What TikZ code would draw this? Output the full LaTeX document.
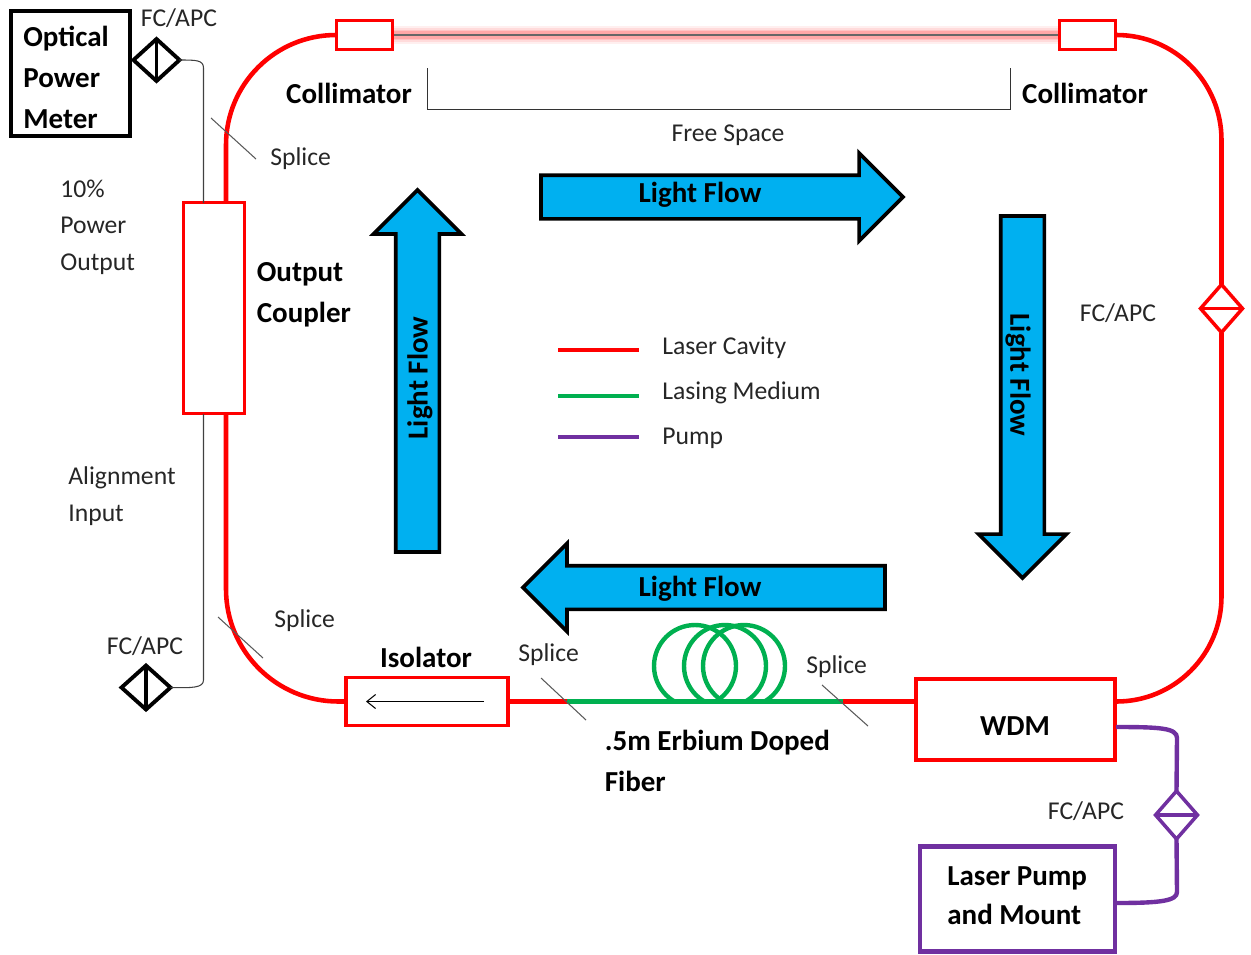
\documentclass[tikz,border=0pt]{standalone}
\usepackage{fontspec}
\setmainfont{Carlito}
\usepackage{xcolor}
\usepackage{tikz}
\usetikzlibrary{positioning,shapes.geometric,shapes.arrows,arrows.meta}
\definecolor{cavityred}{HTML}{FF0000}
\definecolor{mediumgreen}{HTML}{00B050}
\definecolor{pumppurple}{HTML}{7030A0}
\definecolor{flowblue}{HTML}{00B0F0}
\definecolor{labelgray}{HTML}{262626}

\begin{document}
\begin{tikzpicture}[
    x=0.02cm, y=-0.02cm,
    redbox/.style={rectangle, draw=cavityred, line width=2.1pt, fill=white, inner sep=0pt, outer sep=0pt},
    cavity/.style={cavityred, line width=2.6pt},
    medium/.style={mediumgreen, line width=2.5pt},
    pump/.style={pumppurple, line width=2.5pt},
    thinfiber/.style={black!75, line width=0.6pt},
    splicetick/.style={black!65, line width=0.6pt},
    conn/.style={diamond, inner sep=0pt, outer sep=0pt, minimum width=0.84cm, minimum height=0.96cm, line width=2pt, fill=white},
    flow/.style={single arrow, draw=black, fill=flowblue, line width=2.1pt, inner xsep=0pt, inner ysep=0.4cm, outer sep=0pt,
        minimum height=7.24cm, minimum width=1.68cm, single arrow head extend=0.44cm, anchor=tail},
    flowtext/.style={font=\fontsize{16.5}{20}\selectfont\bfseries, text=black, inner sep=0pt},
    boldtext/.style={font=\fontsize{16.5}{23.3}\selectfont\bfseries, align=left, text=black, inner sep=0pt},
    plaintext/.style={font=\fontsize{14.6}{20.8}\selectfont, align=left, text=labelgray, inner sep=0pt}
]
\useasboundingbox (0,0) rectangle (1251,954);

\foreach \wd/\op in {10pt/0.1, 8pt/0.15, 6pt/0.2, 4pt/0.3}
    \draw[cavityred!60, line width=\wd, opacity=\op] (393,35) -- (1059,35);
\draw[black!60, line width=0.9pt] (393,35) -- (1059,35);

\node[redbox, minimum width=1.12cm, minimum height=0.58cm] (coll1) at (364.5,35) {};
\node[redbox, minimum width=1.12cm, minimum height=0.58cm] (coll2) at (1087.5,35) {};
\node[redbox, minimum width=1.22cm, minimum height=4.22cm] (coupler) at (214,308) {};
\node[redbox, minimum width=3.24cm, minimum height=0.96cm] (iso) at (427,701.5) {};
\node[redbox, minimum width=3.98cm, minimum height=1.62cm] (wdm) at (1015.5,719.5) {};
\node[rectangle, draw=pumppurple, line width=2.4pt, inner sep=0pt, outer sep=0pt, minimum width=3.9cm, minimum height=2.1cm] (laser) at (1017.5,899) {};
\node[rectangle, draw=black, line width=2.2pt, inner sep=0pt, outer sep=0pt, minimum width=2.38cm, minimum height=2.5cm] (meter) at (70.5,73.5) {};

\node[conn, draw=cavityred] (fc1) at (1221.5,308.5) {};
\node[conn, draw=pumppurple] (fc2) at (1176.5,815) {};
\node[conn, draw=black, line width=2.2pt, minimum width=0.92cm, minimum height=0.84cm] (fc3) at (156.5,60) {};
\node[conn, draw=black, line width=2.2pt, minimum width=0.98cm, minimum height=0.88cm] (fc4) at (146,687.5) {};
\draw[cavityred, line width=2pt] (fc1.west) -- (fc1.east);
\draw[pumppurple, line width=2pt] (fc2.west) -- (fc2.east);
\draw[black, line width=2.2pt] (fc3.north) -- (fc3.south);
\draw[black, line width=2.2pt] (fc4.north) -- (fc4.south);

\coordinate (ctop) at (226,201.5);
\coordinate (cbot) at (226,414);
\coordinate (wport) at (wdm.west |- iso.east);
\coordinate (eport) at (wdm.east |- iso.east);
\coordinate (sp1) at (567,701.5);
\coordinate (sp2) at (843,701.5);
\draw[cavity, rounded corners=2.2cm] (coll1.west) -| (ctop);
\draw[cavity, rounded corners=2.25cm] (cbot) |- (iso.west);
\draw[cavity, rounded corners=2.1cm] (eport) -| (fc1.south);
\draw[cavity, rounded corners=2.1cm] (fc1.north) |- (coll2.east);
\draw[cavity] (iso.east) -- (sp1);
\draw[cavity] (sp2) -- (wport);

\begin{scope}
\clip (640,610) rectangle (800,701.5);
\foreach \cx in {695,725,744}
    \draw[medium] (\cx,666) circle (0.82cm);
\end{scope}
\draw[medium] (sp1) -- (sp2);

\coordinate (wpump) at (1116,727);
\coordinate (lpump) at (1116,903);
\draw[pump] (wpump) .. controls (1160,727) and (1177,728) .. (1177,738) -- (fc2.north);
\draw[pump] (fc2.south) -- (1177,892) .. controls (1177,901) and (1160,903) .. (lpump);

\coordinate (ctap1) at (203.5,203);
\coordinate (ctap2) at (203.5,414);
\draw[thinfiber] (fc3.east) .. controls (196,60) and (203.5,60) .. (203.5,68) -- (ctap1);
\draw[thinfiber] (fc4.east) .. controls (192,688) and (203.5,688) .. (203.5,680) -- (ctap2);

\draw[splicetick] (211,118) -- (256,159);
\draw[splicetick] (218,617) -- (263,658);
\draw[splicetick] (541,678) -- (586,720);
\draw[splicetick] (822,685) -- (868,726);

\draw[black!80, line width=0.45pt] (427,68) -- (427,109) -- (1010,109) -- (1010,68);

\coordinate (isotail) at (484,701.5);
\coordinate (isotip) at (366,701.5);
\draw[-{Straight Barb[length=5pt,width=8pt]}, black, line width=0.6pt] (isotail) -- (isotip);

\node[flow] (flowr) at (541,197) {};
\node[flow, rotate=-90] (flowd) at (1022.5,216) {};
\node[flow, rotate=180] (flowl) at (885,587.5) {};
\node[flow, rotate=90] (flowu) at (417.5,552) {};
\node[flowtext] (textr) at (700,195) {Light Flow};
\node[flowtext, rotate=-90] (textd) at (1018,375) {Light Flow};
\node[flowtext] (textl) at (700,589) {Light Flow};
\node[flowtext, rotate=90] (textu) at (420,378) {Light Flow};

\foreach \yy/\col/\txt [count=\i] in {350/cavityred/Laser Cavity, 396/mediumgreen/Lasing Medium, 437/pumppurple/Pump} {
    \coordinate (leg\i a) at (558,\yy);
    \coordinate (leg\i b) at (639,\yy);
    \draw[\col, line width=2.5pt] (leg\i a) -- (leg\i b);
}
\node[plaintext, anchor=west] (legt1) at (662,348) {Laser Cavity};
\node[plaintext, anchor=west] (legt2) at (662,393) {Lasing Medium};
\node[plaintext, anchor=west] (legt3) at (662,438) {Pump};

\node[boldtext, anchor=west] (lmeter) at (23,77) {Optical\\Power\\Meter};
\node[boldtext] (lcoll1) at (349,93) {Collimator};
\node[boldtext] (lcoll2) at (1085,93) {Collimator};
\node[boldtext, anchor=west] (lcoupler) at (256.5,295) {Output\\Coupler};
\node[boldtext] (liso) at (426,657) {Isolator};
\node[boldtext] (lwdm) at (1015,726) {WDM};
\node[boldtext, anchor=west] (lfiber) at (604.5,760.5) {.5m Erbium Doped\\Fiber};
\node[boldtext, anchor=west, font=\fontsize{16.5}{22.2}\selectfont\bfseries] (llaser) at (947,895.5) {Laser Pump\\and Mount};

\node[plaintext] (lfc1) at (179,18) {FC/APC};
\node[plaintext] (lfc2) at (145,646) {FC/APC};
\node[plaintext] (lfc3) at (1118,313) {FC/APC};
\node[plaintext] (lfc4) at (1086,811) {FC/APC};
\node[plaintext, anchor=west] (lsp1) at (270,159) {Splice};
\node[plaintext, anchor=west] (lsp2) at (274,621) {Splice};
\node[plaintext, anchor=west] (lsp3) at (518,655) {Splice};
\node[plaintext, anchor=west] (lsp4) at (806,667) {Splice};
\node[plaintext] (lspace) at (728,135) {Free Space};
\node[plaintext, anchor=west] (lpower) at (60,227) {10\%\\Power\\Output};
\node[plaintext, anchor=west] (lalign) at (68,496) {Alignment\\Input};
\end{tikzpicture}
\end{document}
